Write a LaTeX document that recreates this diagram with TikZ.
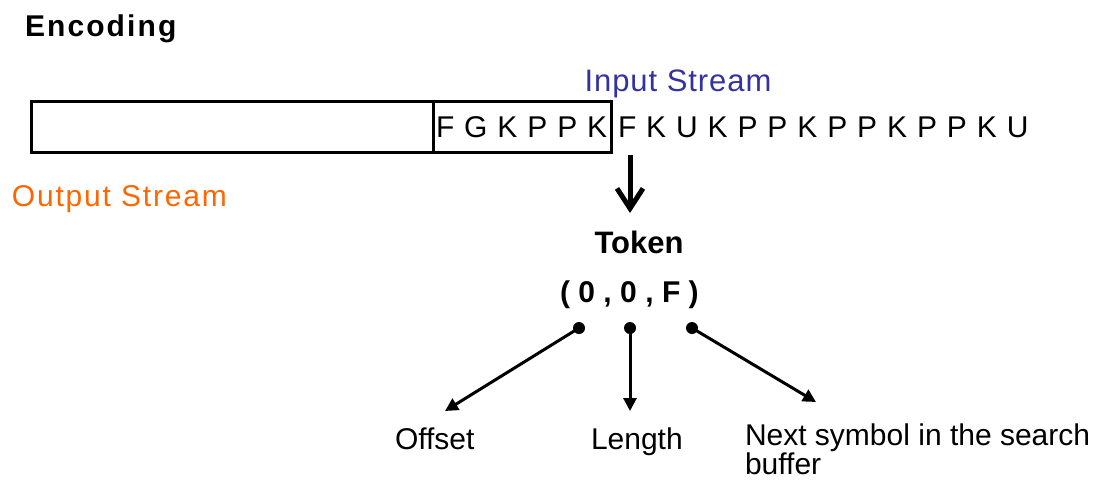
\documentclass[tikz,border=0pt]{standalone}
\usepackage{fontspec}
\setmainfont{Liberation Sans}
\usetikzlibrary{arrows.meta}
\definecolor{inblue}{RGB}{51,51,160}
\definecolor{outorange}{RGB}{255,102,0}
\begin{document}
\begin{tikzpicture}[x=1pt,y=-1pt,
  txt/.style={inner sep=0pt, outer sep=0pt},
  boxline/.style={line width=3pt},
  bigarrow/.style={line width=5pt, -{Straight Barb[length=20pt,width=26pt,line width=5pt]}},
  smallarrow/.style={line width=3pt, -{Triangle[length=13pt,width=13pt]}},
  dotnode/.style={circle, fill=black, inner sep=0pt, minimum size=12pt},
  lbl/.style={txt, anchor=base west, font=\fontsize{30}{30}\selectfont}
]
\useasboundingbox (0,0) rectangle (1109,483);

% title
\node[txt, anchor=base west, font=\fontsize{30}{34}\selectfont\bfseries\addfontfeature{LetterSpace=7}] (enc) at (25,36) {Encoding};

% stream box
\node[draw, boxline, minimum width=580pt, minimum height=51pt, inner sep=0pt] (outbox) at (321,126.5) {};
\draw[boxline] ([xshift=404pt]outbox.north west) -- ([xshift=404pt]outbox.south west);

% letters
\node[txt, anchor=base west, font=\fontsize{30}{30}\selectfont\addfontfeature{LetterSpace=33}] (search) at (436,137) {FGKPPK};
\node[txt, anchor=base west, font=\fontsize{30}{30}\selectfont\addfontfeature{LetterSpace=33}] (ahead) at (618,137) {FKUKPPKPPKPPKU};

% stream labels
\node[txt, anchor=base, text=inblue, font=\fontsize{31}{31}\selectfont\addfontfeature{LetterSpace=3}] (instream) at (678,91) {Input Stream};
\node[txt, anchor=base west, text=outorange, font=\fontsize{30}{30}\selectfont\addfontfeature{LetterSpace=6}] (outstream) at (12,206) {Output Stream};

% token
\coordinate (arrtop) at (630,155);
\coordinate (arrtip) at (630,213);
\draw[bigarrow] (arrtop) -- (arrtip);
\node[txt, anchor=base, font=\fontsize{31}{31}\selectfont\bfseries] (token) at (639,253) {Token};
\node[txt, anchor=base west, font=\fontsize{30}{30}\selectfont\bfseries\addfontfeature{LetterSpace=28}] (tuple) at (560,302) {(0,0,F)};

% dots
\node[dotnode] (d1) at (579,328) {};
\node[dotnode] (d2) at (630,328) {};
\node[dotnode] (d3) at (692,328) {};

% labels
\node[lbl] (offset) at (395,449) {Offset};
\node[lbl] (length) at (591,449) {Length};
\node[lbl] (next) at (745,445) {Next symbol in the search};
\node[lbl] (nextb) at (745,474) {buffer};

\coordinate (t1) at (445,411);
\coordinate (t2) at (630,411);
\coordinate (t3) at (816,402);
\draw[smallarrow] (d1.center) -- (t1);
\draw[smallarrow] (d2.center) -- (t2);
\draw[smallarrow] (d3.center) -- (t3);
\end{tikzpicture}
\end{document}
